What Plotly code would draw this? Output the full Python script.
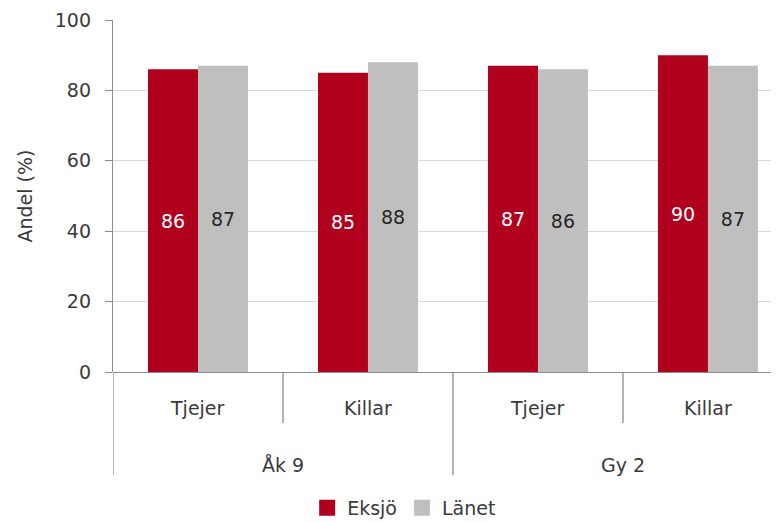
import plotly.graph_objects as go

# ── Données ───────────────────────────────────────────────────
kategorier = ["Tjejer", "Killar", "Tjejer", "Killar"]
grupper = ["Åk 9", "Gy 2"]
eksjo = [86, 85, 87, 90]
lanet = [87, 88, 86, 87]

ROD = "#B0001E"
GRA = "#BFBFBF"
TEXT = "#3A3A3A"
LINJE = "#8C8C8C"
FONT = "DejaVu Sans"

x = list(range(len(kategorier)))

fig = go.Figure()
for namn, varden, farg, tfarg in [("Eksjö", eksjo, ROD, "white"), ("Länet", lanet, GRA, "#262626")]:
    fig.add_bar(
        x=x, y=varden, name=namn, showlegend=False,
        marker_color=farg, marker_line_width=0,
        text=varden, textposition="inside", insidetextanchor="middle",
        textfont=dict(color=tfarg, size=19, family=FONT),
    )
    # légende avec des carrés plus grands
    fig.add_scatter(x=[None], y=[None], name=namn, mode="markers",
                    marker=dict(symbol="square", size=16, color=farg))

# Étiquettes de catégories (deux niveaux)
for i, k in enumerate(kategorier):
    fig.add_annotation(x=i, y=-0.102, xref="x", yref="paper", text=k, yanchor="middle",
                       showarrow=False, font=dict(size=19, color=TEXT, family=FONT))
for j, g in enumerate(grupper):
    fig.add_annotation(x=2 * j + 0.5, y=-0.264, xref="x", yref="paper", text=g, yanchor="middle",
                       showarrow=False, font=dict(size=19, color=TEXT, family=FONT))

# Séparateurs
for i in range(len(kategorier)):
    xb = i - 0.5
    lang = i % 2 == 0
    fig.add_shape(type="line", xref="x", yref="paper", x0=xb, x1=xb,
                  y0=0, y1=-0.293 if lang else -0.145,
                  line=dict(color=LINJE, width=1.3))

fig.update_layout(
    width=779, height=523,
    paper_bgcolor="white", plot_bgcolor="white",
    margin=dict(l=105, r=0, t=12, b=159),
    barmode="group", bargap=0.412, bargroupgap=0,
    font=dict(family=FONT, color=TEXT, size=19),
    showlegend=True,
    legend=dict(orientation="h", x=0.432, y=-0.386, xanchor="center", yanchor="middle",
                font=dict(size=19, color=TEXT, family=FONT), itemwidth=30,
                traceorder="normal"),
)
fig.update_xaxes(range=[-0.5, 3.465], showticklabels=False, showgrid=False,
                 zeroline=False, showline=False, ticks="")
fig.update_yaxes(range=[0, 100], dtick=20, showgrid=True, gridcolor="#D9D9D9",
                 gridwidth=1.3, zeroline=True, zerolinecolor=LINJE, zerolinewidth=1.3,
                 showline=True, linecolor=LINJE, linewidth=1.3,
                 ticks="outside", ticklen=7, tickcolor=LINJE, ticklabelstandoff=10,
                 tickfont=dict(size=19, color=TEXT, family=FONT),
                 title=dict(text="Andel (%)", font=dict(size=19, color=TEXT, family=FONT),
                            standoff=17))

fig.write_html("out.html")
